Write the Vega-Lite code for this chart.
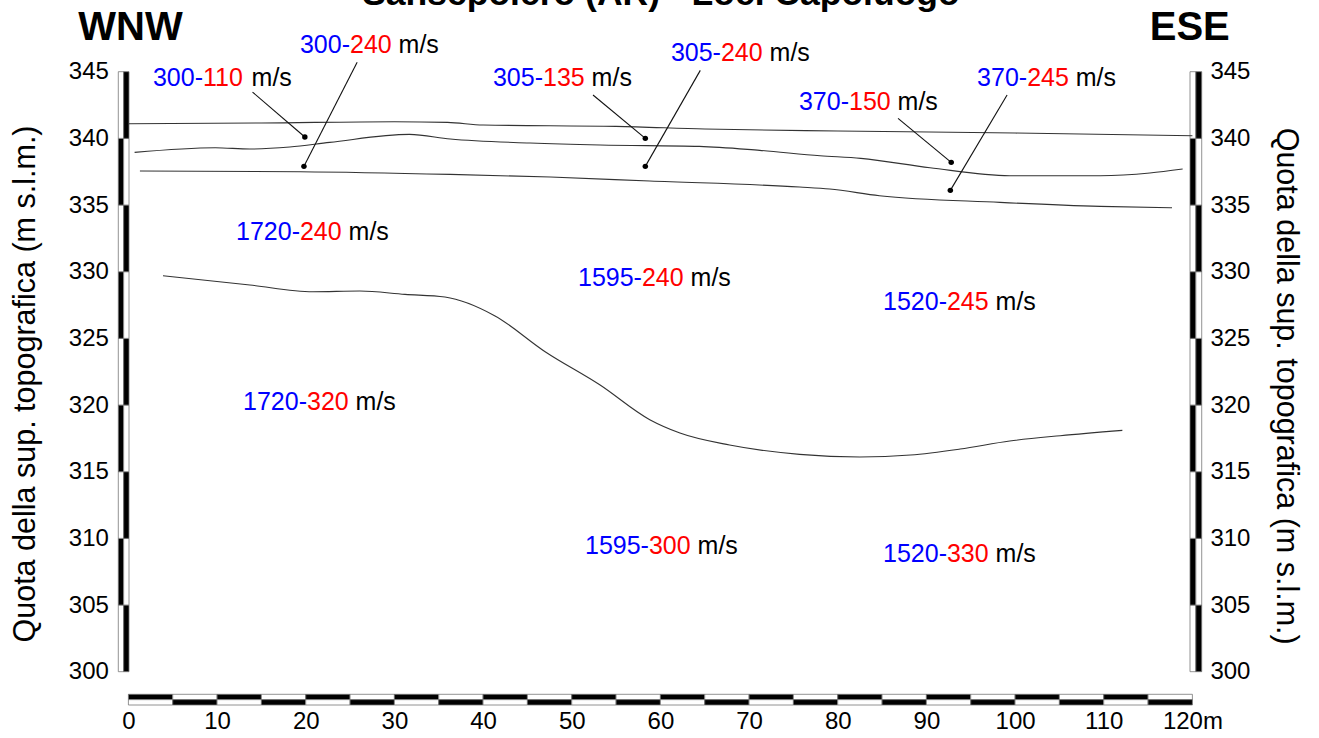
{
 "$schema": "https://vega.github.io/schema/vega-lite/v6.json",
 "width": 1064, "height": 600,
 "autosize": {"type": "none"},
 "padding": {"left": 128.4, "top": 71.7, "right": 126.6, "bottom": 66.3},
 "background": "white",
 "config": {"view": {"stroke": null}, "font": "Liberation Sans"},
 "datasets": {
  "vbar": [
   {"lo": 300, "hi": 305, "p": 0}, {"lo": 305, "hi": 310, "p": 1}, {"lo": 310, "hi": 315, "p": 0},
   {"lo": 315, "hi": 320, "p": 1}, {"lo": 320, "hi": 325, "p": 0}, {"lo": 325, "hi": 330, "p": 1},
   {"lo": 330, "hi": 335, "p": 0}, {"lo": 335, "hi": 340, "p": 1}, {"lo": 340, "hi": 345, "p": 0}
  ],
  "hbar": [
   {"lo": 0, "hi": 5, "p": 0}, {"lo": 5, "hi": 10, "p": 1}, {"lo": 10, "hi": 15, "p": 0}, {"lo": 15, "hi": 20, "p": 1},
   {"lo": 20, "hi": 25, "p": 0}, {"lo": 25, "hi": 30, "p": 1}, {"lo": 30, "hi": 35, "p": 0}, {"lo": 35, "hi": 40, "p": 1},
   {"lo": 40, "hi": 45, "p": 0}, {"lo": 45, "hi": 50, "p": 1}, {"lo": 50, "hi": 55, "p": 0}, {"lo": 55, "hi": 60, "p": 1},
   {"lo": 60, "hi": 65, "p": 0}, {"lo": 65, "hi": 70, "p": 1}, {"lo": 70, "hi": 75, "p": 0}, {"lo": 75, "hi": 80, "p": 1},
   {"lo": 80, "hi": 85, "p": 0}, {"lo": 85, "hi": 90, "p": 1}, {"lo": 90, "hi": 95, "p": 0}, {"lo": 95, "hi": 100, "p": 1},
   {"lo": 100, "hi": 105, "p": 0}, {"lo": 105, "hi": 110, "p": 1}, {"lo": 110, "hi": 115, "p": 0}, {"lo": 115, "hi": 120, "p": 1}
  ],
  "bounds": [
   {"b": "b1", "x": 0, "y": 341.1}, {"b": "b1", "x": 15, "y": 341.15}, {"b": "b1", "x": 30, "y": 341.25},
   {"b": "b1", "x": 36, "y": 341.2}, {"b": "b1", "x": 40, "y": 341.0}, {"b": "b1", "x": 55, "y": 340.9},
   {"b": "b1", "x": 65, "y": 340.7}, {"b": "b1", "x": 80, "y": 340.55}, {"b": "b1", "x": 100, "y": 340.4},
   {"b": "b1", "x": 120, "y": 340.2},
   {"b": "b2", "x": 0.7, "y": 338.95}, {"b": "b2", "x": 9.8, "y": 339.3}, {"b": "b2", "x": 13.7, "y": 339.2},
   {"b": "b2", "x": 18.2, "y": 339.35}, {"b": "b2", "x": 22.7, "y": 339.7}, {"b": "b2", "x": 31.7, "y": 340.3},
   {"b": "b2", "x": 36.3, "y": 339.95}, {"b": "b2", "x": 45.3, "y": 339.65}, {"b": "b2", "x": 53.2, "y": 339.5},
   {"b": "b2", "x": 64.4, "y": 339.4}, {"b": "b2", "x": 71.2, "y": 339.1}, {"b": "b2", "x": 78, "y": 338.7},
   {"b": "b2", "x": 82.6, "y": 338.5}, {"b": "b2", "x": 90.4, "y": 337.8}, {"b": "b2", "x": 99.4, "y": 337.2},
   {"b": "b2", "x": 109.6, "y": 337.2}, {"b": "b2", "x": 115.2, "y": 337.4}, {"b": "b2", "x": 118.9, "y": 337.7},
   {"b": "b3", "x": 1.3, "y": 337.55}, {"b": "b3", "x": 19.4, "y": 337.5}, {"b": "b3", "x": 36.3, "y": 337.3},
   {"b": "b3", "x": 47.6, "y": 337.1}, {"b": "b3", "x": 58.8, "y": 336.8}, {"b": "b3", "x": 75.7, "y": 336.35},
   {"b": "b3", "x": 79.1, "y": 336.2}, {"b": "b3", "x": 84.7, "y": 335.7}, {"b": "b3", "x": 98.3, "y": 335.2},
   {"b": "b3", "x": 109.6, "y": 334.9}, {"b": "b3", "x": 117.7, "y": 334.8},
   {"b": "b4", "x": 3.9, "y": 329.7}, {"b": "b4", "x": 13.7, "y": 329.0}, {"b": "b4", "x": 20.8, "y": 328.5},
   {"b": "b4", "x": 26.1, "y": 328.55}, {"b": "b4", "x": 31.2, "y": 328.3}, {"b": "b4", "x": 35.7, "y": 328.1},
   {"b": "b4", "x": 41.3, "y": 326.7}, {"b": "b4", "x": 47, "y": 324.0}, {"b": "b4", "x": 53.2, "y": 321.5},
   {"b": "b4", "x": 58.8, "y": 318.9}, {"b": "b4", "x": 62.2, "y": 317.9}, {"b": "b4", "x": 67.8, "y": 317.0},
   {"b": "b4", "x": 75.7, "y": 316.3}, {"b": "b4", "x": 82.5, "y": 316.1}, {"b": "b4", "x": 88.2, "y": 316.25},
   {"b": "b4", "x": 93.8, "y": 316.7}, {"b": "b4", "x": 99.4, "y": 317.3}, {"b": "b4", "x": 105.1, "y": 317.7},
   {"b": "b4", "x": 112.1, "y": 318.1}
  ],
  "leaders": [
   {"id": "L1", "pt": "label", "x": 14.0, "y": 343.47}, {"id": "L1", "pt": "dot", "x": 19.9, "y": 340.1},
   {"id": "L2", "pt": "label", "x": 25.8, "y": 345.7}, {"id": "L2", "pt": "dot", "x": 19.8, "y": 337.9},
   {"id": "L3", "pt": "label", "x": 52.4, "y": 343.25}, {"id": "L3", "pt": "dot", "x": 58.3, "y": 340.0},
   {"id": "L4", "pt": "label", "x": 64.5, "y": 345.1}, {"id": "L4", "pt": "dot", "x": 58.3, "y": 337.9},
   {"id": "L5", "pt": "label", "x": 86.8, "y": 341.5}, {"id": "L5", "pt": "dot", "x": 92.8, "y": 338.2},
   {"id": "L6", "pt": "label", "x": 99.1, "y": 343.25}, {"id": "L6", "pt": "dot", "x": 92.7, "y": 336.1}
  ],
  "labels": [
   {"x": 8.41, "y": 343.93, "a": "300-", "b": "110"},
   {"x": 24.99, "y": 346.4, "a": "300-", "b": "240"},
   {"x": 46.76, "y": 343.93, "a": "305-", "b": "135"},
   {"x": 66.83, "y": 345.8, "a": "305-", "b": "240"},
   {"x": 81.27, "y": 342.13, "a": "370-", "b": "150"},
   {"x": 101.36, "y": 343.93, "a": "370-", "b": "245"},
   {"x": 19.35, "y": 332.38, "a": "1720-", "b": "240"},
   {"x": 57.92, "y": 328.93, "a": "1595-", "b": "240"},
   {"x": 92.32, "y": 327.13, "a": "1520-", "b": "245"},
   {"x": 20.14, "y": 319.63, "a": "1720-", "b": "320"},
   {"x": 58.71, "y": 308.83, "a": "1595-", "b": "300"},
   {"x": 92.32, "y": 308.23, "a": "1520-", "b": "330"}
  ]
 },
 "resolve": {"axis": {"y": "independent"}},
 "layer": [
  {
   "data": {"name": "hbar"},
   "mark": {"type": "rect", "stroke": "#777", "strokeWidth": 0.8},
   "encoding": {
    "x": {"field": "lo", "type": "quantitative", "scale": {"domain": [0, 120], "nice": false, "zero": false},
          "axis": {"orient": "bottom", "values": [0,10,20,30,40,50,60,70,80,90,100,110,120],
                   "labelExpr": "datum.value == 120 ? '120m' : datum.label",
                   "ticks": false, "domain": false, "grid": false, "labelFontSize": 24, "labelColor": "black", "labelFont": "Liberation Sans",
                   "labelPadding": 37.5, "labelFlush": false, "labelOverlap": false, "title": null}},
    "x2": {"field": "hi"},
    "y": {"datum": 298.305, "type": "quantitative", "scale": {"domain": [300, 345], "nice": false, "zero": false},
          "axis": {"orient": "left", "values": [300,305,310,315,320,325,330,335,340,345], "ticks": false, "domain": false, "grid": false,
                   "labelFontSize": 24, "labelColor": "black", "labelFont": "Liberation Sans", "labelPadding": 20, "labelOverlap": false,
                   "title": "Quota della sup. topografica (m s.l.m.)", "titleFontSize": 30.5, "titleFontWeight": "normal",
                   "titleColor": "black", "titleFont": "Liberation Sans", "titleX": -87.9, "titleY": 311.8}},
    "y2": {"datum": 297.904},
    "fill": {"condition": {"test": "datum.p == 1", "value": "white"}, "value": "black"}
   }
  },
  {
   "data": {"name": "hbar"},
   "mark": {"type": "rect", "stroke": "#777", "strokeWidth": 0.8},
   "encoding": {
    "x": {"field": "lo", "type": "quantitative", "scale": {"domain": [0, 120], "nice": false, "zero": false}},
    "x2": {"field": "hi"},
    "y": {"datum": 297.904, "type": "quantitative", "scale": {"domain": [300, 345], "nice": false, "zero": false}, "axis": null},
    "y2": {"datum": 297.502},
    "fill": {"condition": {"test": "datum.p == 1", "value": "black"}, "value": "white"}
   }
  },
  {
   "data": {"name": "vbar"},
   "mark": {"type": "rect", "stroke": "#777", "strokeWidth": 0.8},
   "encoding": {
    "x": {"datum": 119.73, "type": "quantitative", "scale": {"domain": [0, 120], "nice": false, "zero": false}},
    "x2": {"datum": 120.39},
    "y": {"field": "lo", "type": "quantitative", "scale": {"domain": [300, 345], "nice": false, "zero": false},
          "axis": {"orient": "right", "values": [300,305,310,315,320,325,330,335,340,345], "ticks": false, "domain": false, "grid": false,
                   "labelFontSize": 24, "labelColor": "black", "labelFont": "Liberation Sans", "labelPadding": 17.5, "labelOverlap": false,
                   "title": "Quota della sup. topografica (m s.l.m.)", "titleFontSize": 30.5, "titleFontWeight": "normal",
                   "titleColor": "black", "titleFont": "Liberation Sans", "titleX": 78, "titleY": 314}},
    "y2": {"field": "hi"},
    "fill": {"condition": {"test": "datum.p == 1", "value": "black"}, "value": "white"}
   }
  },
  {
   "data": {"name": "vbar"},
   "mark": {"type": "rect", "stroke": "#777", "strokeWidth": 0.8},
   "encoding": {
    "x": {"datum": 120.39, "type": "quantitative", "scale": {"domain": [0, 120], "nice": false, "zero": false}},
    "x2": {"datum": 121.05},
    "y": {"field": "lo", "type": "quantitative", "scale": {"domain": [300, 345], "nice": false, "zero": false}, "axis": null},
    "y2": {"field": "hi"},
    "fill": {"condition": {"test": "datum.p == 1", "value": "white"}, "value": "black"}
   }
  },
  {
   "data": {"name": "vbar"},
   "mark": {"type": "rect", "stroke": "#777", "strokeWidth": 0.8},
   "encoding": {
    "x": {"datum": -1.139, "type": "quantitative", "scale": {"domain": [0, 120], "nice": false, "zero": false}},
    "x2": {"datum": -0.536},
    "y": {"field": "lo", "type": "quantitative", "scale": {"domain": [300, 345], "nice": false, "zero": false}, "axis": null},
    "y2": {"field": "hi"},
    "fill": {"condition": {"test": "datum.p == 1", "value": "black"}, "value": "white"}
   }
  },
  {
   "data": {"name": "vbar"},
   "mark": {"type": "rect", "stroke": "#777", "strokeWidth": 0.8},
   "encoding": {
    "x": {"datum": -0.536, "type": "quantitative", "scale": {"domain": [0, 120], "nice": false, "zero": false}},
    "x2": {"datum": 0.068},
    "y": {"field": "lo", "type": "quantitative", "scale": {"domain": [300, 345], "nice": false, "zero": false}, "axis": null},
    "y2": {"field": "hi"},
    "fill": {"condition": {"test": "datum.p == 1", "value": "white"}, "value": "black"}
   }
  },
  {
   "data": {"name": "bounds"},
   "mark": {"type": "line", "stroke": "#333", "strokeWidth": 1.1, "interpolate": "monotone"},
   "encoding": {
    "x": {"field": "x", "type": "quantitative", "scale": {"domain": [0, 120], "nice": false, "zero": false}},
    "y": {"field": "y", "type": "quantitative", "scale": {"domain": [300, 345], "nice": false, "zero": false}, "axis": null},
    "detail": {"field": "b"}
   }
  },
  {
   "data": {"name": "leaders"},
   "mark": {"type": "line", "stroke": "#111", "strokeWidth": 1.1},
   "encoding": {
    "x": {"field": "x", "type": "quantitative", "scale": {"domain": [0, 120], "nice": false, "zero": false}},
    "y": {"field": "y", "type": "quantitative", "scale": {"domain": [300, 345], "nice": false, "zero": false}, "axis": null},
    "detail": {"field": "id"}
   }
  },
  {
   "data": {"name": "leaders"},
   "transform": [{"filter": "datum.pt == 'dot'"}],
   "mark": {"type": "point", "filled": true, "color": "black", "size": 30, "opacity": 1},
   "encoding": {
    "x": {"field": "x", "type": "quantitative", "scale": {"domain": [0, 120], "nice": false, "zero": false}},
    "y": {"field": "y", "type": "quantitative", "scale": {"domain": [300, 345], "nice": false, "zero": false}, "axis": null}
   }
  },
  {
   "data": {"name": "labels"},
   "mark": {"type": "text", "align": "right", "baseline": "alphabetic", "fontSize": 25, "font": "Liberation Sans", "color": "#0000ff"},
   "encoding": {
    "x": {"field": "x", "type": "quantitative", "scale": {"domain": [0, 120], "nice": false, "zero": false}},
    "y": {"field": "y", "type": "quantitative", "scale": {"domain": [300, 345], "nice": false, "zero": false}, "axis": null},
    "text": {"field": "a"}
   }
  },
  {
   "data": {"name": "labels"},
   "mark": {"type": "text", "align": "left", "baseline": "alphabetic", "fontSize": 25, "font": "Liberation Sans", "color": "#ff0000"},
   "encoding": {
    "x": {"field": "x", "type": "quantitative", "scale": {"domain": [0, 120], "nice": false, "zero": false}},
    "y": {"field": "y", "type": "quantitative", "scale": {"domain": [300, 345], "nice": false, "zero": false}, "axis": null},
    "text": {"field": "b"}
   }
  },
  {
   "data": {"name": "labels"},
   "mark": {"type": "text", "align": "left", "baseline": "alphabetic", "fontSize": 25, "font": "Liberation Sans", "color": "#000000", "dx": 48.6},
   "encoding": {
    "x": {"field": "x", "type": "quantitative", "scale": {"domain": [0, 120], "nice": false, "zero": false}},
    "y": {"field": "y", "type": "quantitative", "scale": {"domain": [300, 345], "nice": false, "zero": false}, "axis": null},
    "text": {"value": "m/s"}
   }
  },
  {
   "data": {"values": [{"t": "WNW", "x": 0.24}, {"t": "ESE", "x": 119.7}]},
   "mark": {"type": "text", "align": "center", "baseline": "alphabetic", "fontSize": 40, "fontWeight": "bold", "font": "Liberation Sans", "color": "black"},
   "encoding": {
    "x": {"field": "x", "type": "quantitative", "scale": {"domain": [0, 120], "nice": false, "zero": false}},
    "y": {"datum": 347.4, "type": "quantitative", "scale": {"domain": [300, 345], "nice": false, "zero": false}, "axis": null},
    "text": {"field": "t"}
   }
  },
  {
   "data": {"values": [{"t": "Sansepolcro (AR) - Loc. Capoluogo", "x": 60.06}]},
   "mark": {"type": "text", "align": "center", "baseline": "alphabetic", "fontSize": 35.5, "fontWeight": "bold", "font": "Liberation Sans", "color": "black"},
   "encoding": {
    "x": {"field": "x", "type": "quantitative", "scale": {"domain": [0, 120], "nice": false, "zero": false}},
    "y": {"datum": 350.0, "type": "quantitative", "scale": {"domain": [300, 345], "nice": false, "zero": false}, "axis": null},
    "text": {"field": "t"}
   }
  }
 ]
}
